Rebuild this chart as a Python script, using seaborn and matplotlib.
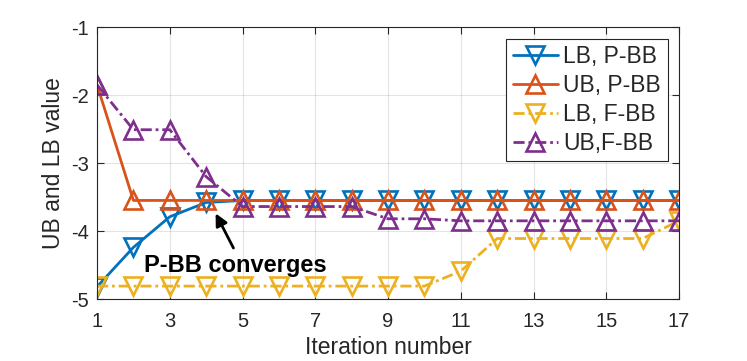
import numpy as np
import pandas as pd
import matplotlib
matplotlib.use("Agg")
import matplotlib.pyplot as plt
import seaborn as sns

iterations = list(range(1, 18))
lb_pbb = [-4.82, -4.24, -3.79, -3.58] + [-3.55] * 13
ub_pbb = [-1.85] + [-3.55] * 16
lb_fbb = [-4.81] * 10 + [-4.59] + [-4.11] * 5 + [-3.85]
ub_fbb = [-1.85, -2.51, -2.51, -3.20, -3.64, -3.64, -3.64, -3.64, -3.82, -3.82,
          -3.85, -3.85, -3.85, -3.85, -3.85, -3.85, -3.85]
series_names = ["LB, P-BB", "UB, P-BB", "LB, F-BB", "UB,F-BB"]
x_ticks = [1, 3, 5, 7, 9, 11, 13, 15, 17]
y_ticks = [-5, -4, -3, -2, -1]

sns.set_style("ticks")
plt.rcParams['font.family'] = ['Liberation Sans', 'DejaVu Sans']

fig = plt.figure(figsize=(7.47, 3.61), dpi=100)
ax = fig.add_axes([0.1299, 0.1717, 0.909 - 0.1299, 0.925 - 0.1717])

colors = ["#0072BD", "#D95319", "#EDB120", "#7E2F8E"]
markers = ["v", "^", "v", "^"]
dashdot = (0, (4.0, 1.4, 1.0, 1.4))
styles = ["-", "-", dashdot, dashdot]
data = [lb_pbb, ub_pbb, lb_fbb, ub_fbb]

for name, vals, c, m, ls in zip(series_names, data, colors, markers, styles):
    sns.lineplot(x=iterations, y=vals, ax=ax, label=name, color=c,
                 linestyle=ls, linewidth=2.0, marker=m, markersize=12.5,
                 markerfacecolor='none', markeredgecolor=c, markeredgewidth=1.9)

ax.set_xlim(1, 17)
ax.set_ylim(-5, -1)
ax.set_xticks(x_ticks)
ax.set_yticks(y_ticks)
ax.set_xticklabels([str(t) for t in x_ticks])
ax.set_yticklabels([str(t) for t in y_ticks])
ax.grid(True, color='#262626', alpha=0.12, linewidth=0.8)
ax.tick_params(direction='in', length=5, width=0.8, colors='#262626',
               labelsize=14.5, top=True, right=True)
ax.tick_params(axis='x', pad=9)
ax.tick_params(axis='y', pad=6)
for s in ax.spines.values():
    s.set_visible(True)
    s.set_color('#262626')
    s.set_linewidth(0.8)

ax.set_xlabel("Iteration number", fontsize=16.5, color='#262626', labelpad=4)
ax.set_ylabel("UB and LB value", fontsize=16.5, color='#262626', labelpad=4)

leg = ax.legend(loc='upper right', fontsize=16.5, frameon=True, fancybox=False,
                edgecolor='#262626', framealpha=1, handlelength=2.0,
                handletextpad=0.2, borderpad=0.3, labelspacing=0.25,
                borderaxespad=0.5)
leg.get_frame().set_linewidth(0.8)

ax.annotate("", xy=(4.26, -3.74), xytext=(4.75, -4.25),
            arrowprops=dict(arrowstyle='-|>', color='black', lw=2,
                            mutation_scale=18, shrinkA=0, shrinkB=0))
ax.text(4.81, -4.51, "P-BB converges", fontsize=17, fontweight='bold',
        ha='center', va='center', color='black')

fig.savefig("out.png", dpi=100)
